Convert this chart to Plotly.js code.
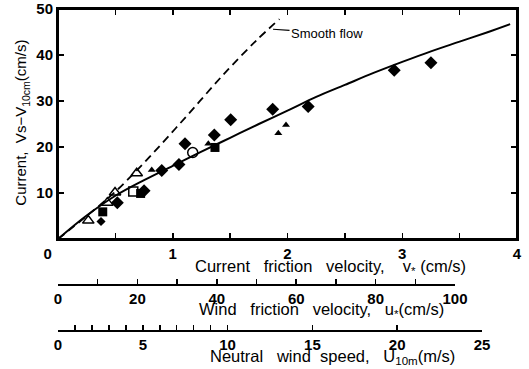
<!DOCTYPE html>
<html><head><meta charset="utf-8">
<script src="https://cdn.plot.ly/plotly-3.0.1.min.js"></script>
<style>
html,body{margin:0;padding:0;background:#fff;}
#wrap{position:relative;width:529px;height:369px;}
#frame{position:absolute;left:57px;top:8px;width:461px;height:232px;box-sizing:border-box;border-top:2px solid #000;border-right:2px solid #000;pointer-events:none;}
</style>
</head><body><div id="wrap"><div id="chart" style="width:529px;height:369px;"></div><div id="frame"></div></div>
<script>
// ---- data ----
const diamondX = [0.517, 0.75, 0.904, 1.054, 1.107, 1.362, 1.505, 1.871, 2.18, 2.93, 3.25];
const diamondY = [7.9, 10.5, 14.9, 16.2, 20.7, 22.6, 25.9, 28.2, 28.8, 36.7, 38.3];
const smallDiamondX = [0.375];
const smallDiamondY = [3.8];
const filledSquareX = [0.39, 0.72, 1.368];
const filledSquareY = [5.9, 9.9, 19.9];
const openTriangleX = [0.264, 0.43, 0.497, 0.686];
const openTriangleY = [4.0, 7.9, 10.1, 14.3];
const openSquareX = [0.656];
const openSquareY = [10.3];
const openCircleX = [1.174];
const openCircleY = [18.8];
const filledTriangleX = [0.817, 1.31, 1.92, 1.987];
const filledTriangleY = [15.0, 20.7, 23.0, 24.8];
const fitX = [0, 0.25, 0.5, 0.75, 1, 1.25, 1.5, 1.75, 2, 2.25, 2.5, 2.75, 3, 3.25, 3.5, 3.75, 3.94];
const fitY = [0, 5.1, 9.4, 12.8, 15.9, 19.0, 22.0, 25.0, 27.9, 30.9, 33.5, 36.1, 38.5, 40.8, 42.9, 45.0, 46.7];
const smoothX = [0, 0.25, 0.5, 0.8, 1.12, 1.44, 1.73, 1.93];
const smoothY = [0, 5.0, 10.3, 17.9, 26.7, 35.7, 43.2, 47.8];

const currentTicks = [0, 0.5, 1, 1.5, 2, 2.5, 3, 3.5, 4];
const currentLabels = ['0\u00a0\u00a0\u00a0\u00a0\u00a0', '', '1', '', '2', '', '3', '', '4'];
const windTicks = [0, 10, 20, 30, 40, 50, 60, 70, 80, 90, 100];
const windLabels = ['0', '', '20', '', '40', '', '60', '', '80', '', '100'];
const speedTicks = [0, 1, 2, 3, 4, 5, 6, 7, 8, 9, 10, 15, 20, 25];
const speedLabels = ['0', '', '', '', '', '5', '', '', '', '', '10', '15', '20', '25'];
const yTicks = [10, 20, 30, 40, 50];

const FONT = 'Liberation Sans, Arial, sans-serif';
const black = '#000';
const S = '\u00a0';

function pts(x, y, symbol, size, lw) {
  return {x: x, y: y, type: 'scatter', mode: 'markers', hoverinfo: 'skip', showlegend: false,
    marker: {symbol: symbol, size: size, color: black, line: {color: black, width: lw || 0}}};
}
function carrier(xa, ya) {
  return {x: [null], y: [null], xaxis: xa, yaxis: ya, type: 'scatter', mode: 'markers', hoverinfo: 'skip', showlegend: false};
}

const traces = [
  {x: smoothX, y: smoothY, type: 'scatter', mode: 'lines', line: {color: black, width: 1.8, dash: '8px,5px', shape: 'spline'}, hoverinfo: 'skip', showlegend: false},
  {x: fitX, y: fitY, type: 'scatter', mode: 'lines', line: {color: black, width: 2, shape: 'spline', smoothing: 1}, hoverinfo: 'skip', showlegend: false},
  pts(diamondX, diamondY, 'diamond', 10),
  pts(smallDiamondX, smallDiamondY, 'diamond', 7),
  pts(filledSquareX, filledSquareY, 'square', 9),
  pts(filledTriangleX, filledTriangleY, 'triangle-up', 7),
  pts(openTriangleX, openTriangleY, 'triangle-up-open', 10, 1.5),
  pts(openSquareX, openSquareY, 'square-open', 9, 1.5),
  pts(openCircleX, openCircleY, 'circle-open', 10, 1.5),
  carrier('x2', 'y2'),
  carrier('x3', 'y3')
];

const tickFont = {family: FONT, size: 15, color: black, weight: 'bold'};
const titleFont = {family: FONT, size: 16.5, color: black};

const layout = {
  width: 529, height: 369,
  margin: {l: 58, r: 12, t: 9, b: 39},
  paper_bgcolor: '#fff', plot_bgcolor: '#fff',
  showlegend: false,
  xaxis: {
    range: [0, 4], domain: [0, 1], anchor: 'y',
    tickvals: currentTicks, ticktext: currentLabels,
    ticks: 'inside', ticklen: 6, tickwidth: 1.5, tickcolor: black,
    showline: true, linewidth: 2, linecolor: black, mirror: 'ticks',
    showgrid: false, zeroline: false, tickfont: tickFont
  },
  yaxis: {
    range: [0, 50], domain: [0.2835, 1], anchor: 'x',
    tickvals: yTicks,
    ticks: 'inside', ticklen: 6, tickwidth: 1.5, tickcolor: black,
    showline: true, linewidth: 2, linecolor: black, mirror: 'ticks',
    showgrid: false, zeroline: false, tickfont: tickFont
  },
  xaxis2: {
    range: [0, 100], domain: [0, 0.865], anchor: 'y2',
    tickvals: windTicks, ticktext: windLabels,
    ticks: 'inside', ticklen: 5, tickwidth: 1.5, tickcolor: black,
    showline: true, linewidth: 1.5, linecolor: black,
    showgrid: false, zeroline: false, tickfont: tickFont
  },
  yaxis2: {range: [0, 1], domain: [0.1433, 0.16], anchor: 'x2', visible: false, showgrid: false, zeroline: false},
  xaxis3: {
    range: [0, 25], domain: [0, 0.9237], anchor: 'y3',
    tickvals: speedTicks, ticktext: speedLabels,
    ticks: 'inside', ticklen: 5, tickwidth: 1.5, tickcolor: black,
    showline: true, linewidth: 1.5, linecolor: black,
    showgrid: false, zeroline: false, tickfont: tickFont
  },
  yaxis3: {range: [0, 1], domain: [0, 0.016], anchor: 'x3', visible: false, showgrid: false, zeroline: false},
  shapes: [
    {type: 'rect', xref: 'x domain', yref: 'y domain', x0: 0, x1: 1, y0: 0, y1: 1, line: {color: black, width: 2}, fillcolor: 'rgba(0,0,0,0)', layer: 'above'}
  ],
  annotations: [
    {xref: 'paper', yref: 'paper', x: 0.594, y: 0.196, text: 'Current' + S + S + S + 'friction' + S + S + S + 'velocity,' + S + S + S + S + 'v<sub>*</sub> (cm/s)', showarrow: false, font: titleFont, xanchor: 'center', yanchor: 'middle'},
    {xref: 'paper', yref: 'paper', x: 0.575, y: 0.062, text: 'Wind' + S + S + S + 'friction' + S + S + S + 'velocity,' + S + S + S + 'u<sub>*</sub>(cm/s)', showarrow: false, font: titleFont, xanchor: 'center', yanchor: 'middle'},
    {xref: 'paper', yref: 'paper', x: 0.598, y: -0.085, text: 'Neutral' + S + S + S + 'wind' + S + S + 'speed,' + S + S + S + 'U<sub>10m</sub>(m/s)', showarrow: false, font: titleFont, xanchor: 'center', yanchor: 'middle'},
    {xref: 'paper', yref: 'paper', x: -0.0784, y: 0.646, text: 'Current,' + S + S + 'Vs\u2212V<sub>10cm</sub>(cm/s)', textangle: -90, showarrow: false, font: {family: FONT, size: 15, color: black}, xanchor: 'center', yanchor: 'middle'},
    {xref: 'x', yref: 'y', x: 1.874, y: 45.6, ax: 54, ay: 4, text: 'Smooth flow', showarrow: true, arrowhead: 0, arrowwidth: 1.2, arrowcolor: black, standoff: 0, font: {family: FONT, size: 13, color: black}}
  ]
};

Plotly.newPlot('chart', traces, layout, {staticPlot: true, displayModeBar: false});
</script>
</body></html>
